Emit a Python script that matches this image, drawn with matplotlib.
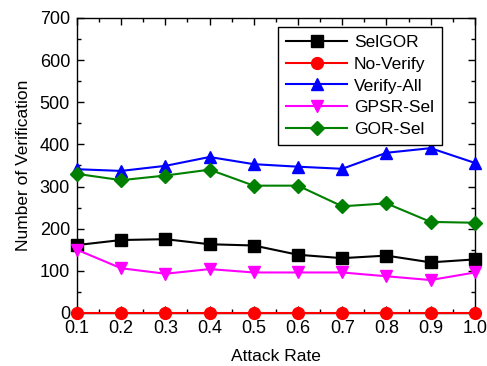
import matplotlib.pyplot as plt
from matplotlib.ticker import MultipleLocator

plt.rcParams['font.family'] = ['Liberation Sans', 'DejaVu Sans']

attack_rate = [0.1, 0.2, 0.3, 0.4, 0.5, 0.6, 0.7, 0.8, 0.9, 1.0]
selgor = [161, 173, 175, 163, 160, 138, 130, 136, 120, 127]
no_verify = [0, 0, 0, 0, 0, 0, 0, 0, 0, 0]
verify_all = [341, 337, 349, 370, 353, 347, 342, 380, 391, 356]
gpsr_sel = [150, 106, 93, 104, 96, 96, 96, 87, 78, 96]
gor_sel = [330, 315, 326, 340, 302, 302, 253, 260, 216, 214]

fig = plt.figure(figsize=(4.87, 3.66), dpi=100)
ax = fig.add_axes([0.158, 0.145, 0.817, 0.806])

series = [
    (selgor, 'SelGOR', 'black', 's'),
    (no_verify, 'No-Verify', 'red', 'o'),
    (verify_all, 'Verify-All', 'blue', '^'),
    (gpsr_sel, 'GPSR-Sel', 'magenta', 'v'),
    (gor_sel, 'GOR-Sel', 'green', 'D'),
]
for vals, name, col, mk in series:
    ms = 7 if mk == 'D' else 8.5
    ax.plot(attack_rate, vals, color=col, marker=mk, markersize=ms,
            linewidth=1.5, label=name, clip_on=False, zorder=3)

ax.set_xlim(0.1, 1.0)
ax.set_ylim(0, 700)
ax.set_xticks(attack_rate)
ax.set_xticklabels(['0.1', '0.2', '0.3', '0.4', '0.5', '0.6', '0.7', '0.8', '0.9', '1.0'])
ax.xaxis.set_minor_locator(MultipleLocator(0.05))
ax.yaxis.set_major_locator(MultipleLocator(100))
ax.yaxis.set_minor_locator(MultipleLocator(50))
ax.tick_params(which='both', direction='in', top=True, right=True, labelsize=13)
ax.tick_params(which='major', length=5, width=1, pad=5)
ax.tick_params(which='minor', length=3, width=1)
for s in ax.spines.values():
    s.set_linewidth(1)

ax.set_xlabel('Attack Rate', fontsize=12.5, labelpad=9)
ax.set_ylabel('Number of Verification', fontsize=12.5, labelpad=6)

leg = ax.legend(loc='upper right', bbox_to_anchor=(0.917, 0.969), borderaxespad=0,
                fontsize=12.5, fancybox=False, framealpha=1, edgecolor='black',
                handlelength=3.5, borderpad=0.45, labelspacing=0.38,
                handletextpad=0.4)
leg.get_frame().set_linewidth(1)

plt.savefig('out.png', dpi=100)
